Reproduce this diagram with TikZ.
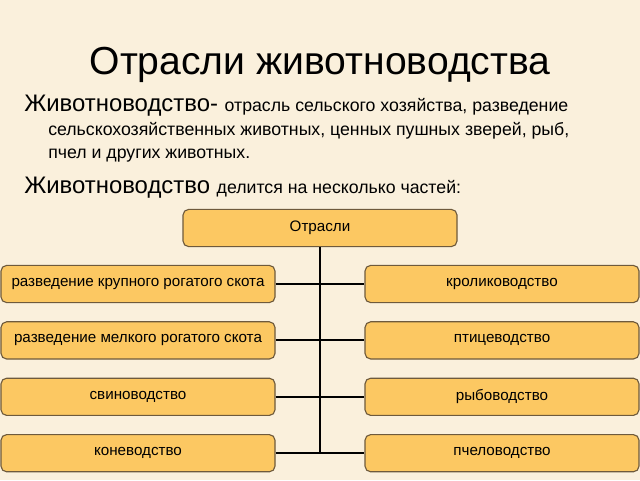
\documentclass[tikz,border=0pt]{standalone}
\usepackage{fontspec}
\setmainfont{Liberation Sans}
\usetikzlibrary{positioning}

\definecolor{paper}{HTML}{FAF0DC}
\definecolor{boxfill}{HTML}{FCC862}
\definecolor{boxline}{HTML}{6E5A3C}

\tikzset{
    branch/.style={draw=boxline, fill=boxfill, rounded corners=4pt,
                   line width=0.8pt, minimum width=6.85cm,
                   minimum height=0.93cm, font=\fontsize{10.8}{13}\selectfont},
    textline/.style={anchor=base west, inner sep=0pt},
    link/.style={line width=1.5pt, black}
}
\newcommand{\bigword}{\fontsize{17}{20}\selectfont}
\newcommand{\smallword}{\fontsize{12.6}{15}\selectfont}

\begin{document}
\begin{tikzpicture}[
                node distance=1.41cm,
                on grid]
            \fill[paper] (0,0) rectangle (16,12);
            \useasboundingbox (0,0) rectangle (16,12);

            \node[anchor=base, font=\fontsize{27.8}{33}\selectfont] (title) at (8,10.14) {Отрасли животноводства};
            \node[textline] (def1) at (0.6,9.2)
                {{\bigword Животноводство- }{\smallword отрасль сельского хозяйства, разведение}};
            \node[textline, font=\smallword] (def2) at (1.2,8.625)
                {сельскохозяйственных животных, ценных пушных зверей, рыб,};
            \node[textline, font=\smallword] (def3) at (1.2,8.05)
                {пчел и других животных.};
            \node[textline] (parts) at (0.6,7.175)
                {{\bigword Животноводство }{\smallword делится на несколько частей:}};

            \node[branch]   (top) at (8,6.3)                        {Отрасли};
            \node[branch]   (l1)  [below left=1.4cm and 4.55cm of top] {разведение крупного рогатого скота};
            \node[branch]   (l2)  [below=of l1]                     {разведение мелкого рогатого скота};
            \node[branch]   (l3)  [below=of l2]                     {свиноводство};
            \node[branch]   (l4)  [below=of l3]                     {коневодство};
            \node[branch]   (r1)  [right=9.1cm of l1]               {кролиководство};
            \node[branch]   (r2)  [below=of r1]                     {птицеводство};
            \node[branch]   (r3)  [below=of r2]                     {рыбоводство};
            \node[branch]   (r4)  [below=of r3]                     {пчеловодство};

            \coordinate (end) at (top |- l4);

            \draw[link] (top) -- (end);
            \draw[link] (l1) -- (r1);
            \draw[link] (l2) -- (r2);
            \draw[link] (l3) -- (r3);
            \draw[link] (l4) -- (r4);
        \end{tikzpicture}
\end{document}
